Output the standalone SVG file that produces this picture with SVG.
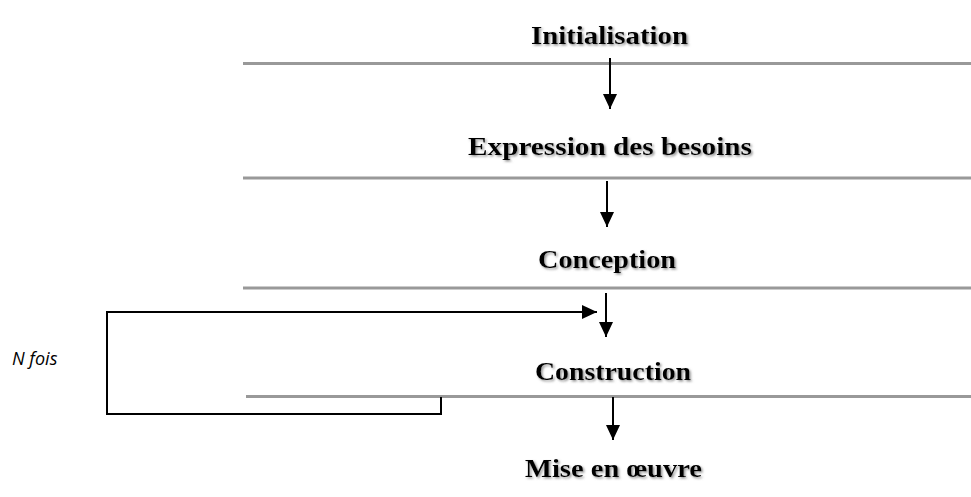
<svg xmlns="http://www.w3.org/2000/svg" width="971" height="497" viewBox="0 0 971 497">
  <style>
    .title { font-family: "Liberation Serif", "DejaVu Serif", serif; font-weight: bold; font-size: 25px; fill: #000; text-anchor: middle; }
    .rule { stroke: #999999; stroke-width: 3; fill: none; }
    .arrow { stroke: #000; stroke-width: 2; fill: none; }
    .note { font-family: "Open Sans", "Liberation Sans", sans-serif; font-style: italic; font-size: 18px; fill: #000; }
  </style>
  <defs>
    <filter id="shadow" x="-10%" y="-30%" width="120%" height="160%">
      <feDropShadow dx="1.5" dy="1.5" stdDeviation="0.8" flood-color="#777777" flood-opacity="0.8"/>
    </filter>
    <marker id="head" markerUnits="userSpaceOnUse" markerWidth="15" markerHeight="14" refX="15" refY="7" orient="auto">
      <path d="M0,0 L15,7 L0,14 z" fill="#000"/>
    </marker>
  </defs>
  <rect width="971" height="497" fill="#ffffff"/>

  <g id="rules">
    <line class="rule" x1="243" y1="63.5" x2="971" y2="63.5"/>
    <line class="rule" x1="243" y1="178" x2="971" y2="178"/>
    <line class="rule" x1="243" y1="288" x2="971" y2="288"/>
    <line class="rule" x1="246" y1="396.5" x2="971" y2="396.5"/>
  </g>

  <g id="node-initialisation">
    <text class="title" x="609.5" y="44" textLength="157" lengthAdjust="spacingAndGlyphs" filter="url(#shadow)">Initialisation</text>
  </g>
  <g id="node-expression">
    <text class="title" x="610" y="155" textLength="284" lengthAdjust="spacingAndGlyphs" filter="url(#shadow)">Expression des besoins</text>
  </g>
  <g id="node-conception">
    <text class="title" x="607" y="268" textLength="138" lengthAdjust="spacingAndGlyphs" filter="url(#shadow)">Conception</text>
  </g>
  <g id="node-construction">
    <text class="title" x="613" y="380" textLength="156" lengthAdjust="spacingAndGlyphs" filter="url(#shadow)">Construction</text>
  </g>
  <g id="node-mise-en-oeuvre">
    <text class="title" x="613.5" y="477" textLength="177" lengthAdjust="spacingAndGlyphs" filter="url(#shadow)">Mise en œuvre</text>
  </g>
  <g id="label-n-fois">
    <text class="note" x="12" y="365">N fois</text>
  </g>

  <g id="connectors">
    <line class="arrow" x1="610" y1="58" x2="610" y2="109" marker-end="url(#head)"/>
    <line class="arrow" x1="607" y1="181" x2="607" y2="227" marker-end="url(#head)"/>
    <line class="arrow" x1="606" y1="293" x2="606" y2="337" marker-end="url(#head)"/>
    <line class="arrow" x1="613" y1="397" x2="613" y2="440" marker-end="url(#head)"/>
    <polyline class="arrow" points="441,397 441,414 107,414 107,312 597,312" marker-end="url(#head)"/>
  </g>
</svg>
